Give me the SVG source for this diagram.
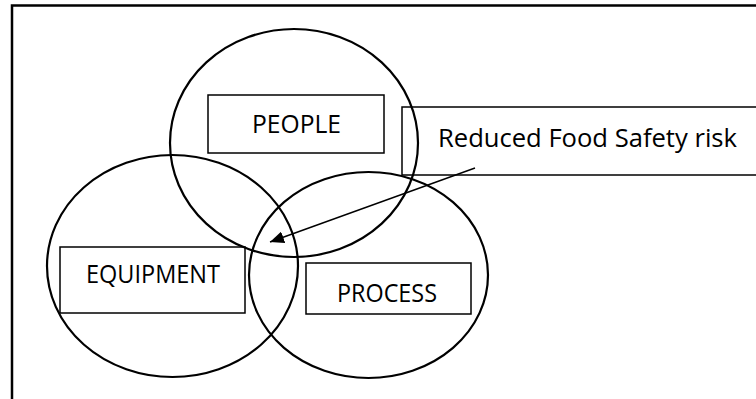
<svg xmlns="http://www.w3.org/2000/svg" width="756" height="399" viewBox="0 0 756 399">
<defs>
<style>
.circ{fill:none;stroke:#000;stroke-width:2.2}
.box{fill:none;stroke:#000;stroke-width:1.5}
.lbl{font-family:"Open Sans","Liberation Sans",sans-serif;font-size:25px;fill:#000}
.frame{fill:none;stroke:#000;stroke-width:2.5}
</style>
<marker id="ah" viewBox="0 0 14 12" refX="14" refY="6" markerWidth="14" markerHeight="12" markerUnits="userSpaceOnUse" orient="auto">
<path d="M0,0 L14,6 L0,12 z" fill="#000"/>
</marker>
</defs>
<rect width="756" height="399" fill="#fff"/>
<path class="frame" d="M12,399 L12,5.5 L756,5.5"/>
<g id="people">
<ellipse class="circ" cx="294" cy="143" rx="124" ry="114"/>
<rect class="box" x="208" y="95" width="176" height="58"/>
<text class="lbl" x="296.5" y="133" text-anchor="middle" textLength="89" lengthAdjust="spacingAndGlyphs">PEOPLE</text>
</g>
<g id="equipment">
<ellipse class="circ" cx="172.5" cy="266" rx="125.5" ry="111"/>
<rect class="box" x="60" y="247" width="185" height="66"/>
<text class="lbl" x="153" y="282.5" text-anchor="middle" textLength="134" lengthAdjust="spacingAndGlyphs">EQUIPMENT</text>
</g>
<g id="process">
<ellipse class="circ" cx="368.5" cy="275" rx="119.5" ry="103"/>
<rect class="box" x="306" y="263" width="165" height="51"/>
<text class="lbl" x="387" y="302" text-anchor="middle" textLength="100" lengthAdjust="spacingAndGlyphs">PROCESS</text>
</g>
<g id="risk">
<rect class="box" x="402" y="107" width="360" height="68"/>
<text class="lbl" x="438" y="147" textLength="299" lengthAdjust="spacingAndGlyphs">Reduced Food Safety risk</text>
</g>
<g id="connectors">
<line x1="475" y1="168" x2="270" y2="242" stroke="#000" stroke-width="1.4" marker-end="url(#ah)"/>
</g>
</svg>
